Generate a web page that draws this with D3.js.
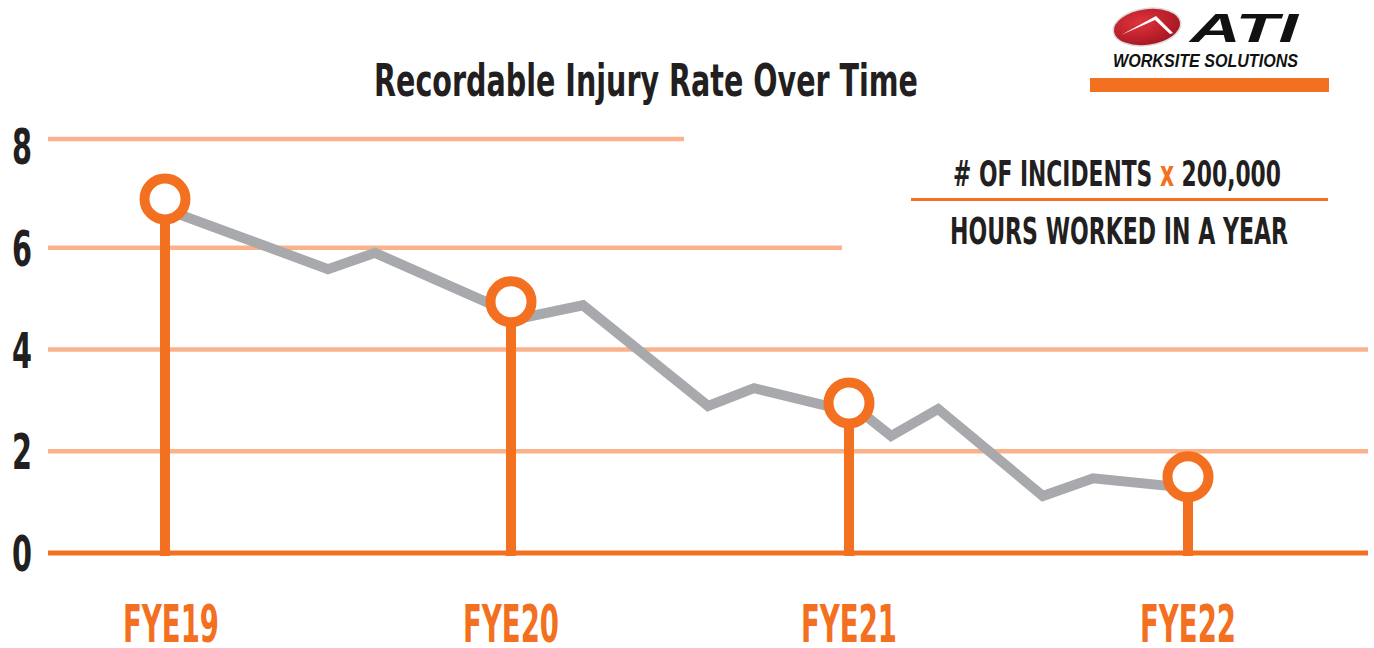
<!DOCTYPE html>
<html>
<head>
<meta charset="utf-8">
<script src="https://cdn.jsdelivr.net/npm/d3@7"></script>
<style>
  html, body { margin: 0; padding: 0; background: #fff; }
  svg { display: block; }
  .cond { font-family: "Liberation Sans Narrow", "DejaVu Sans Condensed", "Roboto", sans-serif; font-weight: bold; }
</style>
</head>
<body>
<div id="chart"></div>
<script>
// annual values (orange lollipops)
var categories = ["FYE19", "FYE20", "FYE21", "FYE22"];
var annualRate = [6.96, 4.94, 2.95, 1.50];

// gray trend line between the years (position in years from FYE19)
var trendPos  = [0, 0.471, 0.607, 1.033, 1.213, 1.583, 1.719, 2.047, 2.124, 2.263, 2.572, 2.720, 3.0];
var trendRate = [6.76, 5.58, 5.90, 4.62, 4.87, 2.89, 3.24, 2.71, 2.30, 2.83, 1.12, 1.47, 1.28];

var yTicks = [0, 2, 4, 6, 8];
var yTickLabels = ["0", "2", "4", "6", "8"];

var title = "Recordable Injury Rate Over Time";
var formulaTop = ["# OF INCIDENTS ", "x", " 200,000"];
var formulaBottom = "HOURS WORKED IN A YEAR";

var width = 1374, height = 648;
var orange = "#f37021", lightOrange = "#f9b28b", gray = "#a7a9ac", ink = "#231f20";

var svg = d3.select("#chart").append("svg")
    .attr("width", width)
    .attr("height", height);

// the years are not spaced quite evenly in the artwork
var x = d3.scaleLinear().domain([0, 1, 2, 3]).range([165, 511, 849, 1188]);
var y = d3.scaleLinear().domain([0, 8]).range([553, 146]);

// grid lines stop at different places (leave room for the formula box)
var gridEnd = { 8: 684, 6: 842, 4: 1368, 2: 1368 };

svg.append("g").selectAll("line")
    .data(yTicks.filter(function (d) { return d > 0; }))
    .join("line")
    .attr("x1", 48)
    .attr("x2", function (d) { return gridEnd[d]; })
    .attr("y1", function (d) { return d === 8 ? y(d) - 7 : y(d); })
    .attr("y2", function (d) { return d === 8 ? y(d) - 7 : y(d); })
    .attr("stroke", lightOrange)
    .attr("stroke-width", 4.5);

// y tick labels
svg.append("g").selectAll("text")
    .data(yTicks)
    .join("text")
    .attr("class", "cond")
    .attr("x", 12)
    .attr("y", function (d) { return y(d) + 18; })
    .attr("font-size", 50)
    .attr("fill", ink)
    .attr("textLength", 20)
    .attr("lengthAdjust", "spacingAndGlyphs")
    .text(function (d, i) { return yTickLabels[i]; });

// gray trend
svg.append("path")
    .datum(d3.zip(trendPos, trendRate))
    .attr("d", d3.line()
        .x(function (d) { return x(d[0]); })
        .y(function (d) { return y(d[1]); }))
    .attr("fill", "none")
    .attr("stroke", gray)
    .attr("stroke-width", 10)
    .attr("stroke-linejoin", "miter");

// baseline
svg.append("line")
    .attr("x1", 48).attr("x2", 1368)
    .attr("y1", y(0)).attr("y2", y(0))
    .attr("stroke", orange)
    .attr("stroke-width", 5);

// stems + rings
var lolly = svg.append("g").selectAll("g")
    .data(annualRate)
    .join("g");

lolly.append("line")
    .attr("x1", function (d, i) { return x(i); })
    .attr("x2", function (d, i) { return x(i); })
    .attr("y1", function (d) { return y(d); })
    .attr("y2", y(0) + 3)
    .attr("stroke", orange)
    .attr("stroke-width", 10);

lolly.append("circle")
    .attr("cx", function (d, i) { return x(i); })
    .attr("cy", function (d) { return y(d); })
    .attr("r", 20.5)
    .attr("fill", "#fff")
    .attr("stroke", orange)
    .attr("stroke-width", 10);

// category labels
svg.append("g").selectAll("text")
    .data(categories)
    .join("text")
    .attr("class", "cond")
    .attr("x", function (d, i) { return x(i) + (i === 0 ? 6 : 0); })
    .attr("y", 642)
    .attr("text-anchor", "middle")
    .attr("font-size", 51)
    .attr("fill", orange)
    .attr("textLength", 96)
    .attr("lengthAdjust", "spacingAndGlyphs")
    .text(function (d) { return d; });

// title
svg.append("text")
    .attr("class", "cond")
    .attr("x", 374)
    .attr("y", 96)
    .attr("font-size", 44)
    .attr("fill", ink)
    .attr("textLength", 544)
    .attr("lengthAdjust", "spacingAndGlyphs")
    .text(title);

// formula box
var ft = svg.append("text")
    .attr("class", "cond")
    .attr("x", 953)
    .attr("y", 186)
    .attr("font-size", 36)
    .attr("fill", ink)
    .attr("textLength", 328)
    .attr("lengthAdjust", "spacingAndGlyphs");
ft.selectAll("tspan")
    .data(formulaTop)
    .join("tspan")
    .attr("fill", function (d) { return d === "x" ? orange : ink; })
    .text(function (d) { return d; });

svg.append("line")
    .attr("x1", 911).attr("x2", 1328)
    .attr("y1", 199.5).attr("y2", 199.5)
    .attr("stroke", orange)
    .attr("stroke-width", 3);

svg.append("text")
    .attr("class", "cond")
    .attr("x", 950)
    .attr("y", 244)
    .attr("font-size", 37)
    .attr("fill", ink)
    .attr("textLength", 338)
    .attr("lengthAdjust", "spacingAndGlyphs")
    .text(formulaBottom);

// logo
var defs = svg.append("defs");
var grad = defs.append("radialGradient").attr("id", "logoRed")
    .attr("cx", "40%").attr("cy", "35%").attr("r", "70%");
grad.append("stop").attr("offset", "0%").attr("stop-color", "#e0343e");
grad.append("stop").attr("offset", "100%").attr("stop-color", "#a3141f");

var logo = svg.append("g");
logo.append("ellipse")
    .attr("cx", 1147).attr("cy", 27)
    .attr("rx", 34).attr("ry", 18.5)
    .attr("transform", "rotate(-8 1147 27)")
    .attr("fill", "url(#logoRed)")
    .attr("stroke", "#d9d9d9")
    .attr("stroke-width", 1.5);
logo.append("path")
    .attr("d", "M1121,35 L1156,16 L1173,33 L1170,34 L1155,20 Z")
    .attr("fill", "#fff");
logo.append("text")
    .attr("x", 1190).attr("y", 42)
    .attr("font-family", "'Liberation Sans', Arial, sans-serif")
    .attr("font-weight", "bold")
    .attr("font-style", "italic")
    .attr("font-size", 40)
    .attr("fill", "#111")
    .attr("textLength", 108)
    .attr("lengthAdjust", "spacingAndGlyphs")
    .text("ATI");
logo.append("text")
    .attr("x", 1113).attr("y", 67)
    .attr("font-family", "'Liberation Sans', Arial, sans-serif")
    .attr("font-weight", "bold")
    .attr("font-style", "italic")
    .attr("font-size", 18)
    .attr("fill", "#111")
    .attr("textLength", 185)
    .attr("lengthAdjust", "spacingAndGlyphs")
    .text("WORKSITE SOLUTIONS");
logo.append("rect")
    .attr("x", 1090).attr("y", 78)
    .attr("width", 239).attr("height", 14)
    .attr("fill", orange);
</script>
</body>
</html>
